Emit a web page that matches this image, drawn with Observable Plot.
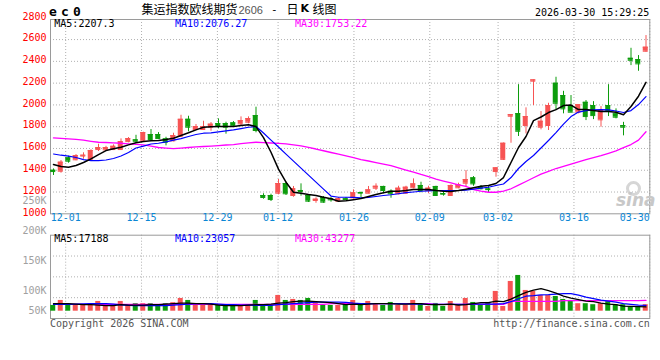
<!DOCTYPE html>
<html><head><meta charset="utf-8">
<script src="https://cdn.jsdelivr.net/npm/d3@7"></script>
<script src="https://cdn.jsdelivr.net/npm/@observablehq/plot@0.6"></script>
<style>
body{margin:0;background:#fff;}
#wrap{position:relative;width:660px;height:360px;overflow:hidden;background:#fff;font-family:"DejaVu Sans Mono",monospace;}
#wrap svg{position:absolute;left:0;top:0;}
.t{position:absolute;white-space:pre;font-size:10px;line-height:12px;font-family:"DejaVu Sans Mono",monospace;}
</style></head><body><div id="wrap"></div>
<script>
const dates = ["11-27","11-28","12-01","12-02","12-03","12-04","12-05","12-08","12-09","12-10","12-11","12-12","12-15","12-16","12-17","12-18","12-19","12-22","12-23","12-24","12-25","12-26","12-29","12-30","12-31","01-05","01-06","01-07","01-08","01-09","01-12","01-13","01-14","01-15","01-16","01-19","01-20","01-21","01-22","01-23","01-26","01-27","01-28","01-29","01-30","02-02","02-03","02-04","02-05","02-06","02-09","02-10","02-11","02-12","02-13","02-24","02-25","02-26","02-27","03-02","03-03","03-04","03-05","03-06","03-09","03-10","03-11","03-12","03-13","03-16","03-17","03-18","03-19","03-20","03-23","03-24","03-25","03-26","03-27","03-30"];
const open = [1400,1391,1514,1496,1530,1496,1590,1587,1590,1590, 1663,1679,1670,1728,1728,1688,1670,1712,1868,1774, 1774,1795,1829,1829,1835,1826,1841,1902,1168,1168, 1189,1278,1168,1214,1168,1122,1150,1140,1116,1138, 1147,1195,1189,1235,1251,1207,1184,1189,1239,1260, 1214,1251,1186,1168,1239,1281,1330,1244,1228,1388, 1500,1896,1920,1811,2218,1795,1811,2199,2086,1994, 1933,2024,1994,1863,1994,1918,1810,2428,2416,2493];
const high = [1412,1489,1529,1544,1560,1588,1639,1620,1633,1688, 1700,1721,1749,1774,1746,1703,1740,1905,1896,1820, 1850,1838,1872,1841,1847,1890,1890,1979,1184,1180, 1315,1294,1251,1275,1174,1147,1159,1152,1150,1150, 1220,1200,1251,1275,1253,1220,1253,1253,1321,1290, 1253,1253,1200,1266,1281,1397,1342,1260,1250,1425, 1650,1911,2186,1973,2230,1939,2015,2254,2125,2086, 2003,2040,2030,1985,2186,1964,1840,2520,2453,2637];
const low = [1352,1373,1465,1487,1501,1489,1572,1575,1581,1587, 1652,1654,1661,1670,1682,1624,1661,1703,1753,1771, 1765,1758,1780,1731,1795,1804,1826,1744,1134,1113, 1174,1168,1152,1162,1104,1097,1097,1107,1110,1125, 1134,1150,1184,1214,1184,1143,1174,1180,1230,1193, 1184,1162,1162,1168,1230,1244,1253,1220,1193,1336, 1490,1648,1710,1734,1994,1771,1765,1948,1918,1930, 1918,1856,1865,1795,1893,1872,1716,2361,2309,2484];
const close = [1388,1474,1483,1535,1538,1581,1608,1608,1620,1663, 1691,1666,1746,1682,1691,1657,1719,1868,1795,1801, 1801,1823,1811,1795,1804,1856,1875,1765,1150,1131, 1278,1184,1230,1205,1116,1134,1107,1128,1138,1131, 1193,1190,1220,1253,1214,1184,1235,1244,1275,1214, 1235,1168,1180,1260,1269,1315,1275,1230,1222,1422, 1648,1911,1758,1893,2230,1850,1994,2015,1964,1933, 2003,1893,1902,1948,1948,1887,1795,2410,2377,2530];
const ma5 = [1453,1434,1428,1443,1471,1505,1544,1581,1597,1611, 1633,1652,1664,1670,1673,1682,1694,1719,1744,1771, 1795,1799,1801,1801,1801,1811,1817,1801,1700,1565, 1410,1290,1198,1189,1177,1168,1152,1138,1116,1120, 1130,1140,1159,1177,1193,1207,1207,1214,1223,1223, 1223,1214,1207,1205,1214,1226,1239,1253,1260,1278, 1333,1471,1609,1710,1856,1889,1930,1957,1994,1999, 1957,1957,1948,1939,1939,1933,1910,1985,2080,2207];
const ma10 = [1549,1538,1529,1517,1498,1489,1489,1494,1508,1531, 1563,1604,1622,1641,1648,1661,1676,1691,1710,1728, 1740,1743,1753,1762,1771,1783,1795,1801,1742,1677, 1613,1548,1484,1420,1355,1291,1227,1163,1152,1152, 1150,1147,1150,1159,1168,1175,1184,1194,1200,1207, 1211,1214,1214,1214,1214,1217,1226,1235,1244,1260, 1274,1333,1416,1480,1535,1604,1673,1746,1824,1893, 1934,1948,1955,1957,1955,1944,1930,1948,2003,2076];
const ma30 = [1697,1693,1689,1683,1676,1666,1657,1655,1652,1648, 1643,1638,1633,1621,1609,1604,1599,1604,1609,1615, 1618,1622,1627,1632,1636,1644,1652,1657,1654,1650, 1647,1643,1633,1623,1609,1595,1579,1563,1547,1531, 1515,1498,1485,1471,1457,1443,1422,1402,1382,1361, 1342,1319,1301,1283,1266,1251,1223,1209,1198,1198, 1209,1230,1263,1297,1331,1365,1390,1416,1436,1457, 1477,1498,1516,1535,1556,1578,1607,1636,1677,1753];
// volumes in thousands (K)
const volumeK = [23,43,23,23,23,30,39,23,23,39, 23,30,30,30,23,30,34,51,43,23, 23,23,23,23,23,23,23,43,23,23, 63,43,47,43,51,34,23,23,23,30, 43,23,39,30,23,35,23,23,43,30, 19,31,19,39,23,51,35,23,35,79, 19,119,143,83,80,63,63,59,47,43, 30,30,26,30,39,26,26,16,16,26];
const volMa5K = [30,30,30,28,26,26,24,22,22,26, 24,24,24,26,26,28,30,32,32,30, 30,28,24,22,22,22,24,26,26,28, 32,34,38,40,40,38,36,34,30,26, 28,26,28,30,30,30,28,28,30,30, 26,26,26,28,24,26,30,34,34,40, 38,48,62,75,84,90,82,72,60,52, 46,40,38,32,28,26,20,19,18,17];
const volMa10K = [27,27,27,28,29,30,30,30,28,25, 23,22,22,22,22,22,24,26,28,30, 30,30,28,26,26,24,24,23,23,23, 26,28,30,32,34,36,36,36,36,35, 32,30,30,30,30,30,30,29,28,28, 27,27,27,27,27,27,28,28,28,28, 30,38,50,60,62,65,66,68,70,70, 64,56,50,44,40,36,30,27,24,23];
const volMa30K = [27,27,27,27,27,27,27,27,27,27, 27,27,27,27,27,27,27,27,27,27, 27,27,27,27,27,27,27,27,27,27, 27,27,27,27,27,27,27,30,30,30, 30,30,30,30,30,30,30,30,30,30, 30,27,27,27,27,27,27,27,27,27, 27,39,39,39,39,39,39,39,42,42, 42,42,42,42,42,42,42,42,42,43];
const gridDates = ["12-01","12-15","12-29","01-12","01-26","02-09","03-02","03-16","03-30"];
const priceTicks = [2800,2600,2400,2200,2000,1800,1600,1400,1200,1000];
const priceGrid = [1200,1400,1600,1800,2000,2200,2400,2600];
const volTickK = [250,200,150,100,50];
const volGridQuarters = [1,2,3];

const RED = "#f75454", GREEN = "#0c9c0c";
const rows = dates.map((d, i) => ({
  date: d, open: open[i], high: high[i], low: low[i], close: close[i],
  ma5: ma5[i], ma10: ma10[i], ma30: ma30[i],
  vol: volumeK[i] * 1000, vma5: volMa5K[i] * 1000, vma10: volMa10K[i] * 1000, vma30: volMa30K[i] * 1000,
  color: close[i] >= open[i] ? RED : GREEN
}));

const W = 660, H = 360;
const L = 50, R = 649.3;
const mainTop = 19, mainBottom = 213.3, volTop = 234.7, volBottom = 318;
const style = {background: "transparent", fontFamily: "DejaVu Sans Mono, monospace", fontSize: "10px", overflow: "visible"};
const common = {width: W, height: H, marginLeft: L, marginRight: W - R, style};
const xPoint = {type: "point", domain: dates, range: [L, R], padding: 0, axis: null};
const xBand = {type: "band", domain: dates, range: [49.25, 649.25], padding: 0, axis: null};
const yPrice = {domain: [1000, 2800], range: [213.3, 17.3], axis: null};
const dotted = {stroke: "#b0b0b0", strokeDasharray: "1,2"};
const frameStroke = "#9a9a9a";

const mainGrid = Plot.plot({
  ...common, marginTop: mainTop, marginBottom: H - mainBottom,
  x: xPoint, y: yPrice,
  marks: [
    Plot.ruleY(priceGrid, {y: d => d, ...dotted}),
    Plot.ruleX(gridDates, {x: d => d, ...dotted}),
    Plot.frame({stroke: frameStroke}),
    Plot.text(priceTicks, {y: d => d, text: d => String(d), frameAnchor: "left", textAnchor: "end", dx: -4, dy: -1.5, fill: "#ff0000"}),
    Plot.text(gridDates.slice(0, -1), {x: d => d, text: d => d, frameAnchor: "bottom", dy: 7, fill: "#0a86d4"}),
    Plot.text(gridDates.slice(-1), {x: d => d, text: d => d, frameAnchor: "bottom", dy: 7, textAnchor: "end", fill: "#0a86d4"})
  ]
});

const volGrid = Plot.plot({
  ...common, marginTop: volTop, marginBottom: H - volBottom,
  x: xPoint, y: {domain: [0, 4], axis: null},
  marks: [
    Plot.ruleY(volGridQuarters, {y: d => d, ...dotted}),
    Plot.ruleX(gridDates, {x: d => d, ...dotted}),
    Plot.frame({stroke: frameStroke})
  ]
});

const volLabels = Plot.plot({
  ...common, marginTop: volTop, marginBottom: H - volBottom,
  y: {domain: [67.8, 250], range: [310, 200.7], clamp: true, axis: null},
  marks: [
    Plot.text(volTickK, {y: d => d, text: d => d + "K", frameAnchor: "left", textAnchor: "end", dx: -4, fill: "#a0a0a0"})
  ]
});

const mainData = Plot.plot({
  ...common, marginTop: mainTop, marginBottom: H - mainBottom,
  x: xBand, y: yPrice, color: {type: "identity"},
  marks: [
    Plot.ruleX(rows, {x: "date", y1: "low", y2: "high", stroke: "color"}),
    Plot.barY(rows, {x: "date", y1: d => Math.min(d.open, d.close), y2: d => Math.max(d.open, d.close), fill: "color", insetLeft: 1, insetRight: 1.5}),
    Plot.tickY(rows, {x: "date", y: "close", stroke: "color", insetLeft: 1, insetRight: 1.5}),
    Plot.tickY(rows, {x: "date", y: "open", stroke: "color", insetLeft: 1, insetRight: 1.5}),
    Plot.line(rows, {x: "date", y: "ma30", stroke: "#ff00ff", strokeWidth: 1.3}),
    Plot.line(rows, {x: "date", y: "ma10", stroke: "#0000ff", strokeWidth: 1.2}),
    Plot.line(rows, {x: "date", y: "ma5", stroke: "#000000", strokeWidth: 1.5})
  ]
});

const volData = Plot.plot({
  ...common, marginTop: volTop, marginBottom: H - volBottom,
  x: xBand, y: {domain: [0, 304000], range: [310.7, 234.7], axis: null}, color: {type: "identity"},
  marks: [
    Plot.barY(rows, {x: "date", y1: 0, y2: "vol", fill: "color", insetLeft: 1, insetRight: 1.5}),
    Plot.line(rows, {x: "date", y: "vma30", stroke: "#ff00ff", strokeWidth: 1.3}),
    Plot.line(rows, {x: "date", y: "vma10", stroke: "#0000ff", strokeWidth: 1.2}),
    Plot.line(rows, {x: "date", y: "vma5", stroke: "#000000", strokeWidth: 1.3})
  ]
});

const wrap = document.getElementById("wrap");
[mainGrid, volGrid, volLabels, mainData, volData].forEach(s => wrap.appendChild(s));

function addText(txt, left, top, css) {
  const d = document.createElement("div");
  d.className = "t";
  d.textContent = txt;
  d.style.left = left + "px";
  d.style.top = top + "px";
  Object.assign(d.style, css || {});
  wrap.appendChild(d);
  return d;
}
// header
addText("ec0", 49, 4, {fontSize: "13px", fontWeight: "bold", letterSpacing: "4.2px", lineHeight: "15px", color: "#000"});
addText("集运指数欧线期货", 141.5, 2, {fontFamily: "'Noto Sans CJK SC'", fontSize: "12px", lineHeight: "14px", color: "#000"});
addText("2606", 238.5, 3, {fontFamily: "'Liberation Sans'", fontSize: "11px", lineHeight: "14px", color: "#555"});
addText("-", 271, 3, {fontSize: "11px", lineHeight: "14px", color: "#000"});
addText("日", 286.5, 2, {fontFamily: "'Noto Sans CJK SC'", fontSize: "12px", lineHeight: "14px", color: "#000"});
addText("K", 300.5, 2, {fontFamily: "'DejaVu Sans'", fontWeight: "bold", fontSize: "11px", lineHeight: "14px", color: "#000"});
addText("线图", 312.5, 2, {fontFamily: "'Noto Sans CJK SC'", fontSize: "12px", lineHeight: "14px", color: "#000"});
addText("2026-03-30 15:29:25", 535, 6.5, {color: "#000"});
// MA legends
addText("MA5:2207.3", 54.3, 17.5, {color: "#000"});
addText("MA10:2076.27", 175, 17.5, {color: "#0000ff"});
addText("MA30:1753.22", 295, 17.5, {color: "#ff00ff"});
addText("MA5:17188", 54.3, 232.5, {color: "#000"});
addText("MA10:23057", 175, 232.5, {color: "#0000ff"});
addText("MA30:43277", 295, 232.5, {color: "#ff00ff"});
// footer
addText("Copyright 2026 SINA.COM", 50, 317.5, {color: "#555"});
addText("http://finance.sina.com.cn", 493.3, 317.5, {color: "#555"});
// watermark
const eye = document.createElement("div");
Object.assign(eye.style, {position: "absolute", left: "626px", top: "181px", width: "9px", height: "9px", border: "3px solid #d6d6d6", borderRadius: "50%"});
wrap.appendChild(eye);
addText("sina", 616, 191, {fontFamily: "'DejaVu Sans'", fontWeight: "bold", fontStyle: "italic", fontSize: "17px", lineHeight: "18px", color: "#c8c8c8"});
</script></body></html>
